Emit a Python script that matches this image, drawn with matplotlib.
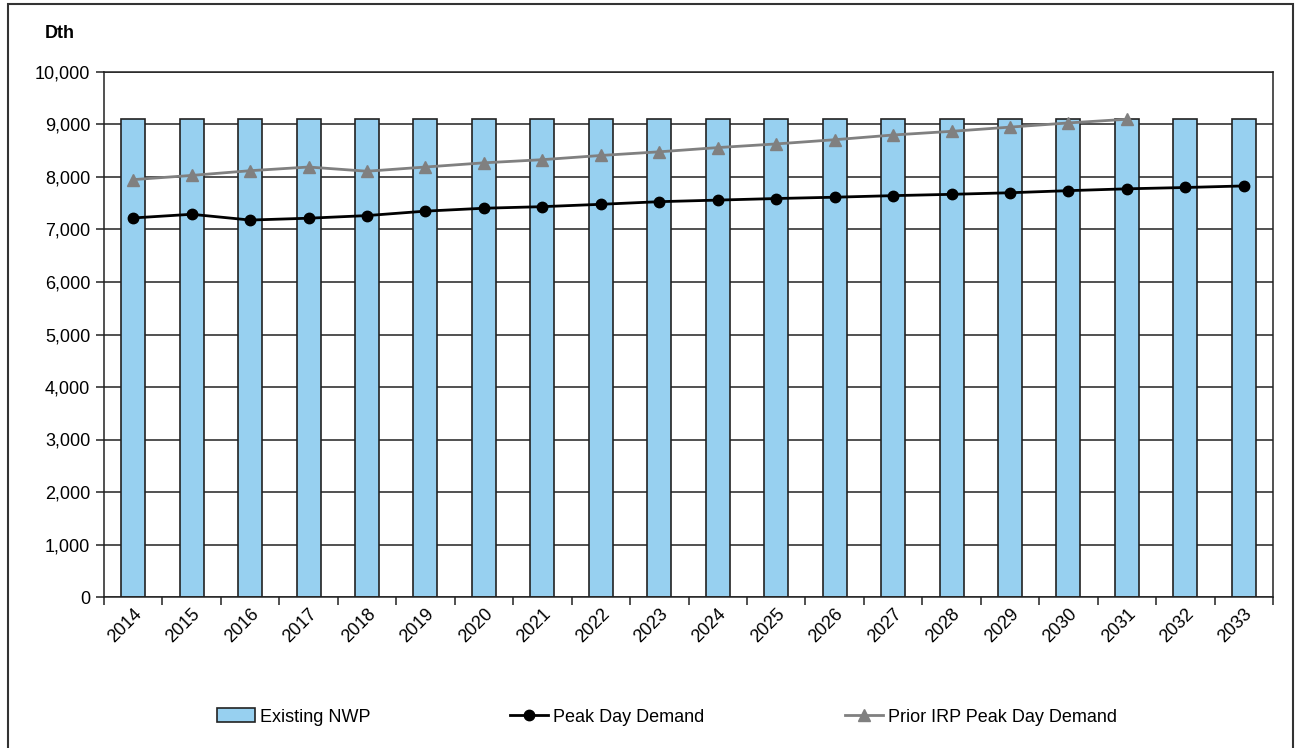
import matplotlib
matplotlib.use("Agg")
import matplotlib.pyplot as plt
import numpy as np
from matplotlib.patches import Rectangle
from matplotlib import font_manager

names = {f.name for f in font_manager.fontManager.ttflist}
fam = ['Liberation Sans Narrow', 'Liberation Sans', 'DejaVu Sans']
fam = [f for f in fam if f in names] or ['DejaVu Sans']
plt.rcParams['font.family'] = fam

years = [str(y) for y in range(2014, 2034)]
existing_nwp = [9100] * 20
peak_day = [7220, 7290, 7180, 7215, 7265, 7350, 7405, 7435, 7480, 7530,
            7560, 7590, 7615, 7645, 7670, 7700, 7740, 7775, 7800, 7830]
prior_irp = [7950, 8030, 8120, 8190, 8110, 8190, 8270, 8330, 8410, 8480,
             8560, 8630, 8710, 8800, 8870, 8950, 9030, 9100]
yticks = list(range(0, 10001, 1000))

W, H = 1299, 748
fig = plt.figure(figsize=(W / 100, H / 100), dpi=100)
ax = fig.add_axes([104 / W, 1 - 597 / H, (1273 - 104) / W, (597 - 72) / H])

x = np.arange(len(years))
h_bar = ax.bar(x, existing_nwp, width=0.41, color='#97D0F0', edgecolor='#222222',
               linewidth=1.2, zorder=2, label='Existing NWP')
h_peak, = ax.plot(x[:len(peak_day)], peak_day, color='black', lw=2, marker='o',
                  markersize=7.5, zorder=4, label='Peak Day Demand')
h_prior, = ax.plot(x[:len(prior_irp)], prior_irp, color='#808080', lw=2, marker='^',
                   markersize=8, zorder=3, label='Prior IRP Peak Day Demand')

ax.set_xlim(-0.5, len(years) - 0.5)
ax.set_ylim(0, 10000)
ax.set_yticks(yticks)
ax.set_yticklabels([f'{v:,}' for v in yticks], fontsize=13)
ax.yaxis.grid(True, color='#222222', lw=1.1, zorder=0)
ax.set_axisbelow(True)

ax.set_xticks(np.arange(len(years) + 1) - 0.5)
ax.set_xticklabels([])
ax.set_xticks(x, minor=True)
ax.set_xticklabels(years, minor=True, rotation=45, ha='right',
                   rotation_mode='anchor', fontsize=13)
ax.tick_params(axis='x', which='minor', length=0, pad=6)
ax.tick_params(axis='x', which='major', length=6, width=1.1, color='#222222', direction='out')
ax.tick_params(axis='y', length=6, width=1.1, color='#222222', direction='out', pad=4)
for s in ax.spines.values():
    s.set_color('#222222')
    s.set_linewidth(1.1)

fig.text(45 / W, 1 - 33 / H, 'Dth', fontsize=13, fontweight='bold', va='center', ha='left')

ly = 1 - 717 / H
for handle, xpos in [(h_bar, 217), (h_peak, 510), (h_prior, 845)]:
    fig.legend([handle], [handle.get_label()], loc='center left',
               bbox_to_anchor=(xpos / W, ly), frameon=False, fontsize=13,
               handlelength=2.1, handletextpad=0.3, handleheight=0.8,
               borderpad=0, borderaxespad=0)

fig.patches.append(Rectangle((8 / W, -0.01), (1293 - 8) / W, 1 - 4 / H + 0.01,
                             transform=fig.transFigure, fill=False,
                             edgecolor='#333333', lw=1.5))

fig.savefig('out.png', dpi=100)
